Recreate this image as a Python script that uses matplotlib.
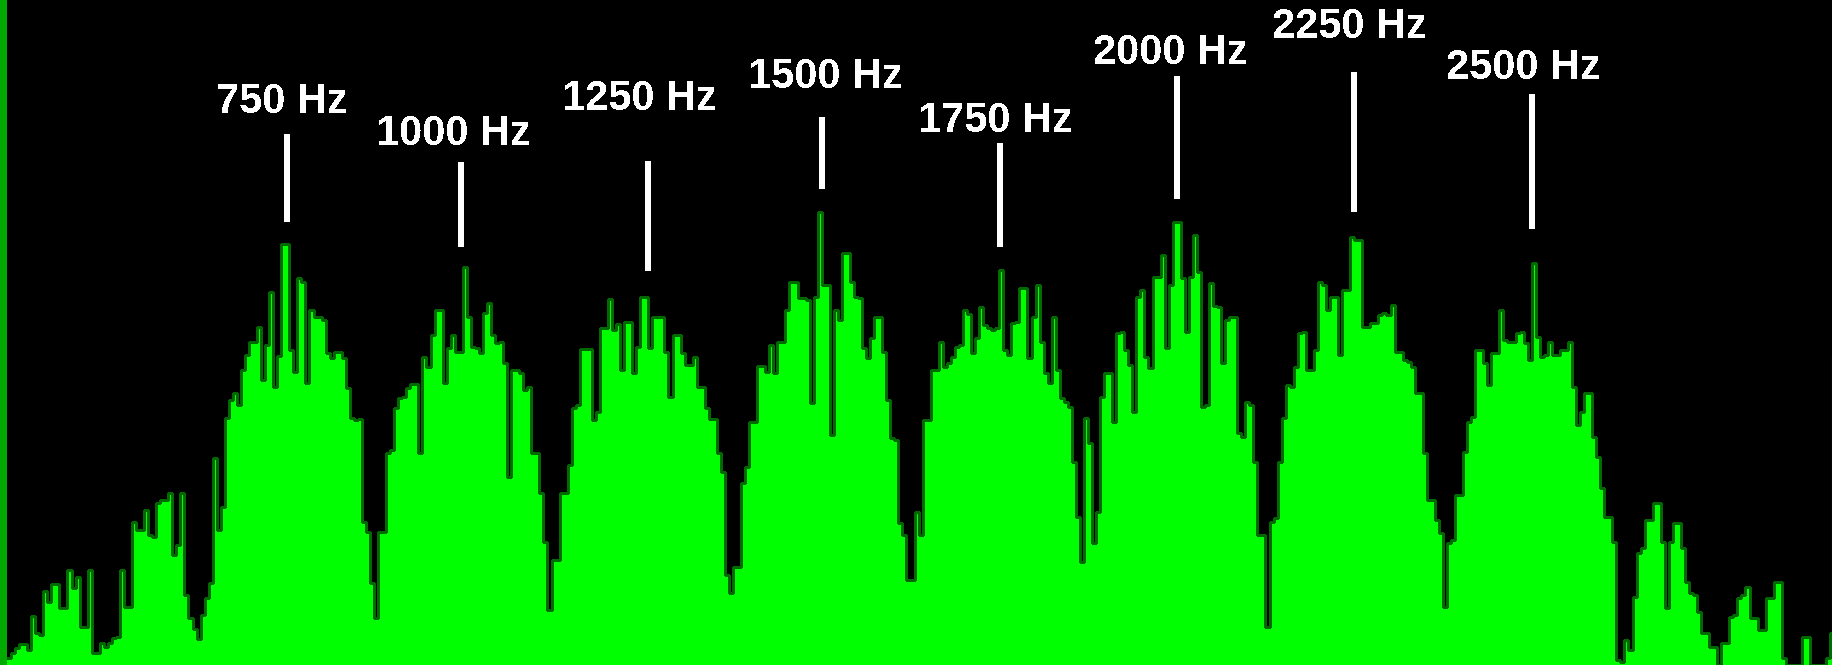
import numpy as np
import matplotlib
matplotlib.use("Agg")
import matplotlib.pyplot as plt
from matplotlib.patches import Rectangle

# ── spectrum levels, one value per FFT bin (0 = floor, 665 = top of display) ──
band_1 = [7, 12, 17, 21, 21, 15, 49, 32, 30, 74, 63, 81, 81, 57, 57, 95, 77, 88, 38, 38,
          95, 12, 12, 22, 18, 22, 27, 28, 95, 58, 58, 143, 135, 135, 155, 130, 128, 162, 165, 165,
          172, 110, 120, 172, 70, 47, 36, 26, 50, 67, 82, 207, 135, 158, 247, 265, 272, 260, 295, 310,
          323, 323, 338, 285]
band_2 = [320, 373, 278, 309, 421, 421, 315, 293, 387, 383, 282, 355, 348, 348, 345, 312, 307, 313, 313, 307,
          277, 247, 245, 246, 143, 133, 82, 47, 133, 133, 212, 215, 257, 267, 268, 277, 281, 281, 212, 308,
          298, 330, 355, 355, 282, 317, 330, 313, 313, 398, 348, 318, 317, 312, 352, 362, 330, 322, 323, 302,
          188, 295, 295, 292, 275]
band_3 = [278, 212, 212, 172, 123, 55, 105, 105, 172, 172, 200, 257, 260, 316, 316, 316, 245, 253, 337, 337,
          366, 335, 341, 295, 343, 343, 292, 318, 368, 368, 317, 348, 348, 348, 313, 268, 330, 330, 312, 300,
          300, 308, 278, 278, 257, 246, 246, 212, 193, 90, 72, 98, 98, 182, 198, 243, 243, 299, 299, 293,
          320, 292, 323, 323, 355]
band_4 = [383, 383, 367, 367, 365, 262, 368, 453, 380, 380, 230, 355, 345, 412, 412, 383, 368, 367, 317, 307,
          327, 348, 348, 313, 265, 227, 225, 142, 130, 85, 85, 153, 130, 245, 245, 295, 295, 323, 298, 302,
          308, 318, 320, 355, 351, 312, 327, 358, 340, 337, 335, 337, 395, 315, 310, 342, 343, 377, 377, 307,
          348, 380, 323, 292, 282]
band_5 = [348, 295, 267, 263, 258, 203, 148, 103, 247, 222, 122, 153, 268, 292, 292, 243, 332, 333, 315, 300,
          253, 368, 375, 308, 297, 388, 388, 410, 317, 380, 443, 443, 387, 333, 388, 430, 393, 258, 260, 382,
          359, 358, 302, 345, 348, 348, 232, 228, 263, 260, 203, 130, 130, 38, 143, 147, 203, 247, 280, 278,
          298, 332, 333, 295, 295]
band_6 = [315, 383, 380, 355, 368, 368, 310, 375, 375, 428, 425, 425, 338, 338, 342, 342, 350, 352, 350, 360,
          313, 313, 305, 303, 298, 272, 272, 212, 165, 165, 145, 132, 58, 122, 125, 170, 170, 213, 243, 248,
          315, 315, 302, 280, 312, 312, 355, 325, 323, 323, 332, 333, 322, 305, 402, 328, 308, 310, 323, 310,
          310, 315, 315, 323, 278]
band_7 = [240, 253, 272, 272, 228, 208, 177, 148, 148, 123, 5, 3, 25, 15, 68, 112, 117, 145, 145, 162,
          162, 123, 57, 123, 142, 142, 117, 83, 72, 70, 53, 32, 32, 18, 18, 0, 22, 22, 48, 50,
          67, 70, 78, 47, 47, 35, 35, 67, 67, 83, 83, 7, 0, 0, 0, 0, 28, 28, 0, 0,
          0, 0, 7, 32, 32]

levels = np.array(band_1 + band_2 + band_3 + band_4 + band_5 + band_6 + band_7, dtype=float)

F0 = 356.4   # Hz, left edge of first bin
DF = 5.67    # Hz per bin
freqs = F0 + DF * np.arange(len(levels))

# ── tone markers ──
marker_hz = [750, 1000, 1250, 1500, 1750, 2000, 2250, 2500]
marker_labels = [f"{f} Hz" for f in marker_hz]

# layout of the markers (display level units / pixel nudges)
text_base = [552, 520, 555, 577, 533, 601, 627, 586]
line_top = [531, 503, 504, 548, 522, 589, 593, 571]
line_bot = [443, 418, 394, 476, 418, 466, 453, 436]
line_dx = [0, -4, 5, 1, 2, 1, 0, 0]
text_dx = [-5, -11, -3, 5, -3, -6, -5, -8]

W, H = 1833, 665
PX_PER_HZ = 0.7114
plt.rcParams["text.antialiased"] = False

fig = plt.figure(figsize=(W / 100, H / 100), dpi=100, facecolor="black")
ax = fig.add_axes([0, 0, 1, 1])
ax.set_facecolor("black")

x_lo = 346.6
x_hi = x_lo + W / PX_PER_HZ
ax.set_xlim(x_lo, x_hi)
ax.set_ylim(0, H)
ax.axis("off")

# spectrum bars
ax.bar(freqs, levels, width=DF, align="edge", color="#00FF00",
       linewidth=0, antialiased=False, zorder=2)
# dark rim on the bar edges
edges = np.append(freqs, freqs[-1] + DF)
ax.step(edges, np.append(levels, levels[-1]), where="post",
        color="#006A00", linewidth=0.8, antialiased=False, zorder=3)

# display border strips
ax.add_patch(Rectangle((0, 0), 7 / W, 1, transform=ax.transAxes,
                       color="#00AA00", linewidth=0, zorder=4))
ax.plot([1832.5 / W, 1832.5 / W], [0, 307 / H], transform=ax.transAxes,
        color="#00C000", linewidth=0.8, zorder=4)

# markers
for f, lab, tb, lt, lb, ldx, tdx in zip(marker_hz, marker_labels, text_base,
                                        line_top, line_bot, line_dx, text_dx):
    xl = f + ldx / PX_PER_HZ
    ax.plot([xl, xl], [lb, lt], color="white", linewidth=2.9,
            solid_capstyle="butt", antialiased=False, zorder=5)
    ax.text(f + tdx / PX_PER_HZ, tb, lab, color="white", ha="center", va="baseline",
            fontsize=30, fontweight="bold", family="Liberation Sans", zorder=6)

fig.savefig("out.png", dpi=100, facecolor="black")
